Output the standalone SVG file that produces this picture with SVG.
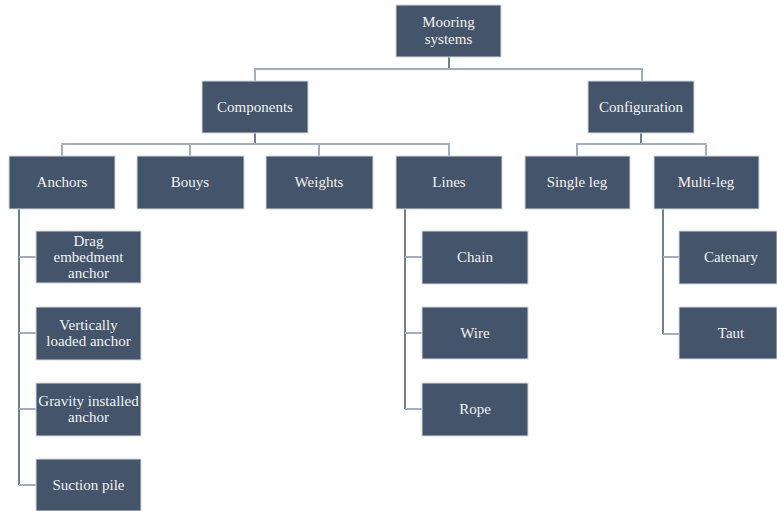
<svg xmlns="http://www.w3.org/2000/svg" width="777" height="511" viewBox="0 0 777 511" font-family="Liberation Serif, serif">
<style>
.box{fill:#44546A;stroke:#d3d8df;stroke-width:1}
.t{font-size:15px;fill:#f2f2f2;text-anchor:middle}
.h{fill:none;stroke:#a3adbb;stroke-width:2}
.v{fill:none;stroke:#44546A;stroke-width:1.5}
</style>
<rect width="777" height="511" fill="#ffffff"/>
<g id="connectors">
<path class="v" d="M449 57V69"/>
<path class="h" d="M255 81V69H642V81"/>
<path class="v" d="M255 133V144"/>
<path class="h" d="M62 156V144H449V156M190 156V144M319 156V144"/>
<path class="v" d="M641 133V144"/>
<path class="h" d="M577 156V144H706V156"/>
<path class="v" d="M19 209V485"/>
<path class="h" d="M19 257H36M19 333H36M19 409H36M19 485H36"/>
<path class="v" d="M405 209V409"/>
<path class="h" d="M405 257H422M405 333H422M405 409H422"/>
<path class="v" d="M663 209V334"/>
<path class="h" d="M663 257H679M663 334H679"/>
</g>
<g id="mooring"><rect class="box" x="396" y="5" width="105" height="52"/><text class="t" x="448.5" y="27">Mooring</text><text class="t" x="448.5" y="44">systems</text></g>
<g id="components"><rect class="box" x="202" y="81" width="106" height="52"/><text class="t" x="255" y="112">Components</text></g>
<g id="configuration"><rect class="box" x="588" y="81" width="106" height="52"/><text class="t" x="641" y="112">Configuration</text></g>
<g id="anchors"><rect class="box" x="9" y="156" width="106" height="53"/><text class="t" x="62" y="187">Anchors</text></g>
<g id="bouys"><rect class="box" x="137" y="156" width="107" height="53"/><text class="t" x="190" y="187">Bouys</text></g>
<g id="weights"><rect class="box" x="266" y="156" width="107" height="53"/><text class="t" x="319" y="187">Weights</text></g>
<g id="lines"><rect class="box" x="396" y="156" width="106" height="53"/><text class="t" x="449" y="187">Lines</text></g>
<g id="single"><rect class="box" x="525" y="156" width="105" height="53"/><text class="t" x="577" y="187">Single leg</text></g>
<g id="multi"><rect class="box" x="654" y="156" width="105" height="53"/><text class="t" x="706" y="187">Multi-leg</text></g>
<g id="drag"><rect class="box" x="36" y="231" width="105" height="52"/><text class="t" x="88.5" y="246">Drag</text><text class="t" x="88.5" y="262">embedment</text><text class="t" x="88.5" y="278">anchor</text></g>
<g id="vertical"><rect class="box" x="36" y="307" width="105" height="53"/><text class="t" x="88.5" y="330">Vertically</text><text class="t" x="88.5" y="346">loaded anchor</text></g>
<g id="gravity"><rect class="box" x="36" y="383" width="105" height="53"/><text class="t" x="88.5" y="406">Gravity installed</text><text class="t" x="88.5" y="422">anchor</text></g>
<g id="suction"><rect class="box" x="36" y="459" width="105" height="52"/><text class="t" x="88.5" y="490">Suction pile</text></g>
<g id="chain"><rect class="box" x="422" y="231" width="106" height="53"/><text class="t" x="475" y="262">Chain</text></g>
<g id="wire"><rect class="box" x="422" y="307" width="106" height="52"/><text class="t" x="475" y="338">Wire</text></g>
<g id="rope"><rect class="box" x="422" y="383" width="106" height="53"/><text class="t" x="475" y="414">Rope</text></g>
<g id="catenary"><rect class="box" x="679" y="231" width="98" height="53"/><text class="t" x="731" y="262">Catenary</text></g>
<g id="taut"><rect class="box" x="679" y="307" width="98" height="52"/><text class="t" x="731" y="338">Taut</text></g>
</svg>
